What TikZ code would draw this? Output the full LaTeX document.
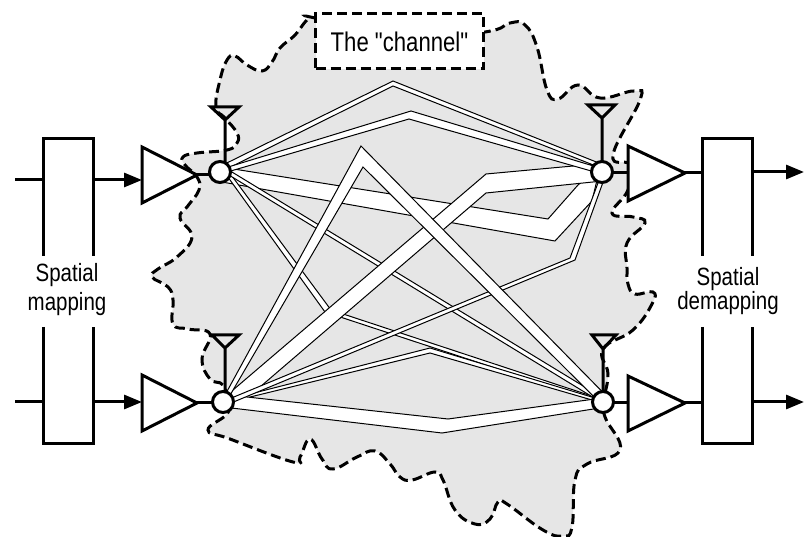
\documentclass[tikz,border=0pt]{standalone}
\usepackage{fontspec}
\newfontfamily\nf[FakeStretch=0.82]{Liberation Sans}
\usetikzlibrary{arrows.meta,calc}
\pgfdeclarelayer{bg}
\pgfsetlayers{bg,main}
\definecolor{chgray}{HTML}{E6E6E6}
\tikzset{
  heavy/.style={line width=3pt,black,line join=miter},
  sig/.style={heavy,-{Triangle[length=18pt,width=14pt]}},
  port/.style={circle,draw=black,fill=white,line width=3pt,minimum size=21pt,inner sep=0pt,outer sep=0pt},
  ribbon/.style={draw=black,fill=white,line width=1pt,line join=miter,miter limit=20},
  amp/.style={heavy,fill=white},
  antenna/.style={heavy},
  dashline/.style={line width=3pt,dash pattern=on 10pt off 5pt,black},
  lbl/.style={align=center,inner sep=0pt},
}
\begin{document}
\begin{tikzpicture}[x=1pt,y=-1pt]
\useasboundingbox (0,0) rectangle (804,537);
% ports
\node[port] (tl) at (220,172) {};
\node[port] (tr) at (602,172) {};
\node[port] (bl) at (223,402) {};
\node[port] (br) at (603,402) {};
\begin{pgfonlayer}{bg}
\fill[white] (0,0) rectangle (804,537);
\draw[dashline,fill=chgray] plot[smooth cycle,tension=0.75] coordinates {
 (400,40)(315,18)(307,20)(295,35)(280,48)(272,62)(262,71)(247,65)(235,56)(227,60)(220,80)(216,107)
 (225,118)(237,133)(237,143)(227,150)(197,153)(183,157)(185,165)(197,177)(199,190)(187,207)(180,218)(192,237)
 (177,257)(158,269)(152,277)(168,287)(173,300)(173,324)(188,329)(210,334)(202,359)(210,379)(223,385)
 (228,402)(227,414)(208,430)(230,439)(293,462)(300,457)(310,439)(322,459)(333,469)(357,457)(375,451)(390,464)(400,477)
 (412,480)(435,472)(443,480)(455,510)(475,524)(490,519)(498,502)(507,504)(543,530)(563,536)(572,527)(575,480)(587,464)(620,450)
 (605,417)(604,400)(608,374)(603,349)(633,330)(652,304)(653,292)(635,294)(628,284)(627,268)(627,243)(645,223)(633,217)(612,213)
 (628,190)(630,165)(613,155)(640,100)(634,91)(600,98)(578,85)(558,99)(547,90)(537,47)(525,25)(510,23)(485,32)};
% ribbons, lowest first
\draw[ribbon] (tl.20) -- (548,219) -- (578,185) -- (tr.190) -- (tr.-120) -- (592,201) -- (555,241) -- (tl.-75) -- cycle;
\draw[ribbon] (tl.-10) -- (331,310) -- (br.150) -- (br.170) -- (325,312) -- (tl.-35) -- cycle;
\draw[ribbon] (tl.5) -- (br.130) -- (br.155) -- (tl.-20) -- cycle;
\draw[ribbon] (bl.20) -- (430,348) -- (br.155) -- (br.170) -- (430,353) -- (bl.5) -- cycle;
\draw[ribbon] (bl.40) -- (448,419) -- (br.165) -- (br.-140) -- (442,433) -- (bl.-35) -- cycle;
\draw[ribbon] (bl.55) -- (486,174) -- (tr.130) -- (tr.-115) -- (486,193) -- (260,387) -- (bl.10) -- cycle;
\draw[ribbon] (tl.55) -- (393,81) -- (tr.115) -- (tr.140) -- (393,86) -- (tl.25) -- cycle;
\draw[ribbon] (tl.30) -- (411,111) -- (tr.145) -- (tr.175) -- (409,119) -- (tl.5) -- cycle;
\draw[ribbon] (bl.25) -- (570,258) -- (tr.-110) -- (tr.-85) -- (575,260) -- (bl.0) -- cycle;
\draw[ribbon] (bl.70) -- (361,146) -- (br.95) -- (br.150) -- (363,167) -- (bl.45) -- cycle;
\end{pgfonlayer}
% channel label
\node[draw=black,dashline,fill=white,minimum width=168pt,minimum height=55pt,inner sep=0pt,font=\nf\fontsize{27}{30}\selectfont] (chan) at (399.5,41.5) {The "channel"};
% amplifiers
\coordinate (a1a) at (142,147); \coordinate (a1b) at (142,203); \coordinate (a1t) at (197,175);
\coordinate (a2a) at (142,375); \coordinate (a2b) at (142,431); \coordinate (a2t) at (197,403);
\coordinate (a3a) at (628,146); \coordinate (a3b) at (628,201); \coordinate (a3t) at (685,173);
\coordinate (a4a) at (628,376); \coordinate (a4b) at (628,431); \coordinate (a4t) at (685,403);
\draw[heavy] (a1t) -- (a1t -| tl.west);
\draw[heavy] (a2t) -- (a2t -| bl.west);
\draw[heavy] (tr.east |- a3t) -- (a3a |- a3t);
\draw[heavy] (br.east |- a4t) -- (a4a |- a4t);
\draw[amp] (a1a) -- (a1t) -- (a1b) -- cycle;
\draw[amp] (a2a) -- (a2t) -- (a2b) -- cycle;
\draw[amp] (a3a) -- (a3t) -- (a3b) -- cycle;
\draw[amp] (a4a) -- (a4t) -- (a4b) -- cycle;
% antennas
\coordinate (n1t) at (225,120); \coordinate (n1s) at (225,162);
\coordinate (n2t) at (602,118); \coordinate (n2s) at (602,162);
\coordinate (n3t) at (225,348); \coordinate (n3s) at (225,392);
\coordinate (n4t) at (603,349); \coordinate (n4s) at (603,392);
\draw[antenna] (n1s) -- (n1t) -- (211,107) -- (239,107) -- (n1t);
\draw[antenna] (n2s) -- (n2t) -- (588,105) -- (615,105) -- (n2t);
\draw[antenna] (n3s) -- (n3t) -- (212,335) -- (239,335) -- (n3t);
\draw[antenna] (n4s) -- (n4t) -- (592,335) -- (616,335) -- (n4t);
% spatial blocks
\coordinate (l1) at (43,256); \coordinate (l2) at (93,256); \coordinate (l3) at (43,327); \coordinate (l4) at (93,327);
\coordinate (r1) at (702,256); \coordinate (r2) at (752,256); \coordinate (r3) at (702,327); \coordinate (r4) at (752,327);
\draw[heavy] (l1) -- (43,139) -- (93,139) -- (l2);
\draw[heavy] (l3) -- (43,444) -- (93,444) -- (l4);
\draw[heavy] (r1) -- (702,139) -- (752,139) -- (r2);
\draw[heavy] (r3) -- (702,444) -- (752,444) -- (r4);
\node[lbl,font=\nf\fontsize{25}{29}\selectfont] (smap) at (67,290) {Spatial\\mapping};
\node[lbl,font=\nf\fontsize{25}{23}\selectfont] (sdem) at (728,291) {Spatial\\demapping};
% signals
\coordinate (i1) at (15,180); \coordinate (i1e) at (43,180); \coordinate (o1s) at (93,180);
\coordinate (i2) at (15,402); \coordinate (i2e) at (43,402); \coordinate (o2s) at (93,402);
\coordinate (p1s) at (752,172); \coordinate (p1e) at (804,172); \coordinate (q1) at (702,172);
\coordinate (p2s) at (752,402); \coordinate (p2e) at (804,402); \coordinate (q2) at (702,402);
\draw[heavy] (i1) -- (i1e);
\draw[heavy] (i2) -- (i2e);
\draw[sig] (o1s) -- (a1a |- o1s);
\draw[sig] (o2s) -- (a2a |- o2s);
\draw[heavy] (a3t) -- (q1 |- a3t);
\draw[heavy] (a4t) -- (q2 |- a4t);
\draw[sig] (p1s) -- (p1e);
\draw[sig] (p2s) -- (p2e);
\end{tikzpicture}
\end{document}
